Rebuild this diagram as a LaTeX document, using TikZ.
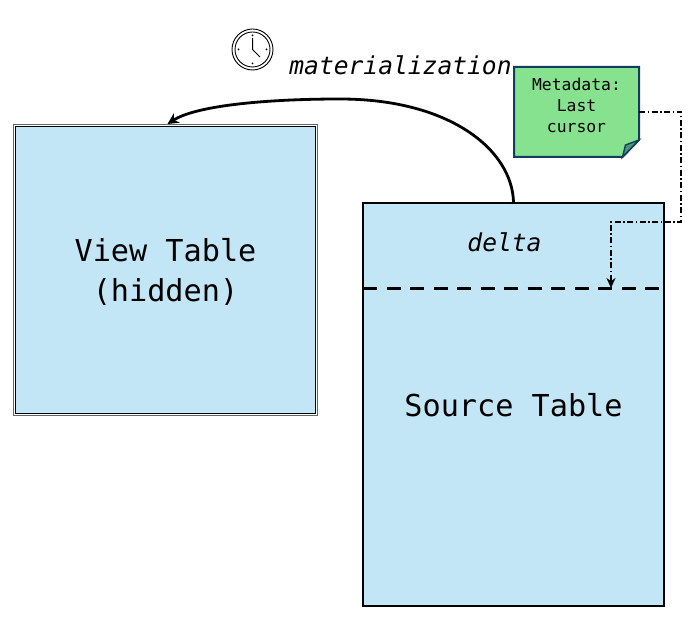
\documentclass[tikz,border=0pt]{standalone}
\usepackage{fontspec}
\setmonofont{DejaVu Sans Mono}
\usetikzlibrary{calc}
\usetikzlibrary{arrows.meta}
\definecolor{tablefill}{RGB}{194,230,245}
\definecolor{notefill}{RGB}{135,226,143}
\definecolor{folddark}{RGB}{76,150,125}
\definecolor{noteline}{RGB}{16,62,92}
\tikzset{
  tablebox/.style={draw=black, fill=tablefill, line width=2pt, anchor=north west, inner sep=0},
  bigtext/.style={font=\fontsize{30.2}{40}\selectfont\ttfamily, align=center},
  smalltext/.style={font=\fontsize{24.6}{30}\selectfont\ttfamily\itshape},
  notetext/.style={font=\fontsize{16.4}{21}\selectfont\ttfamily, align=center},
}
\begin{document}
\begin{tikzpicture}[x=1pt, y=-1pt]
\useasboundingbox (0,0) rectangle (689,617);
% tables
\node[draw=black!60, fill=white, line width=1pt, anchor=north west, inner sep=0, minimum width=304, minimum height=291] (viewframe) at (13,124) {};
\node[tablebox, line width=1pt, minimum width=299.5, minimum height=286.5, anchor=center] (view) at (viewframe.center) {};
\node[bigtext] (viewlabel) at ($(view.center)+(0,1.5)$) {View Table\\(hidden)};
\node[tablebox, minimum width=301, minimum height=403] (source) at (362,202) {};
\coordinate (split) at ($(source.north west)+(1,86.5)$);
\coordinate (splitend) at ($(source.north east)+(-1,86.5)$);
\draw[black, line width=3pt, dash pattern=on 14pt off 9.5pt] (split)--(splitend);
\node[smalltext] (delta) at ($(source.north)+(-9,40)$) {delta};
\node[bigtext] (sourcelabel) at (513.5,405) {Source Table};
% note
\coordinate (note) at (576.5,112);
\coordinate (notenw) at ($(note)+(-62.5,-45)$);
\coordinate (notene) at ($(note)+(62.5,-45)$);
\coordinate (notesw) at ($(note)+(-62.5,45)$);
\coordinate (noteeast) at ($(note)+(62.5,0)$);
\coordinate (foldtop) at ($(note)+(62.5,28)$);
\coordinate (foldleft) at ($(note)+(46,45)$);
\draw[noteline, fill=notefill, line width=2pt] (notenw)--(notene)--(foldtop)--(foldleft)--(notesw)--cycle;
\draw[noteline, fill=folddark, line width=1.4pt] (foldleft)--($(foldleft)+(3,-12)$)--(foldtop)--cycle;
\node[notetext] (notelabel) at ($(note)+(0,-7)$) {Metadata:\\Last\\cursor};
% clock
\coordinate (clockmid) at (252.5,49.5);
\draw[black, line width=.9pt] (clockmid) circle (20.5);
\draw[black, line width=.9pt] (clockmid) circle (17.5);
\draw[black, line width=1pt] (252.5,38)--(clockmid)--(260,57);
\foreach \a in {0,90,180,270} {
 \fill[black] ($(clockmid)+(\a:14)$) circle (1);
}
\node[smalltext] (matlabel) at (400.5,65) {materialization};
% connectors
\draw[black, line width=2.8pt, -{Stealth[length=11pt,width=11pt]}] (source.north) .. controls (512,150) and (450,99) .. (340,99) .. controls (270,99) and (197,105) .. ($(viewframe.north)+(2,0)$);
\coordinate (bendright) at (681,112);
\coordinate (bendlow) at (681,222);
\coordinate (bendleft) at (611,222);
\coordinate (cursorpos) at (611,288);
\draw[black, line width=1.6pt, dash pattern=on 6pt off 2.5pt on 1.5pt off 2.5pt, -{Stealth[length=10pt,width=9pt]}] (noteeast)--(bendright)--(bendlow)--(bendleft)--(cursorpos);
\end{tikzpicture}
\end{document}
